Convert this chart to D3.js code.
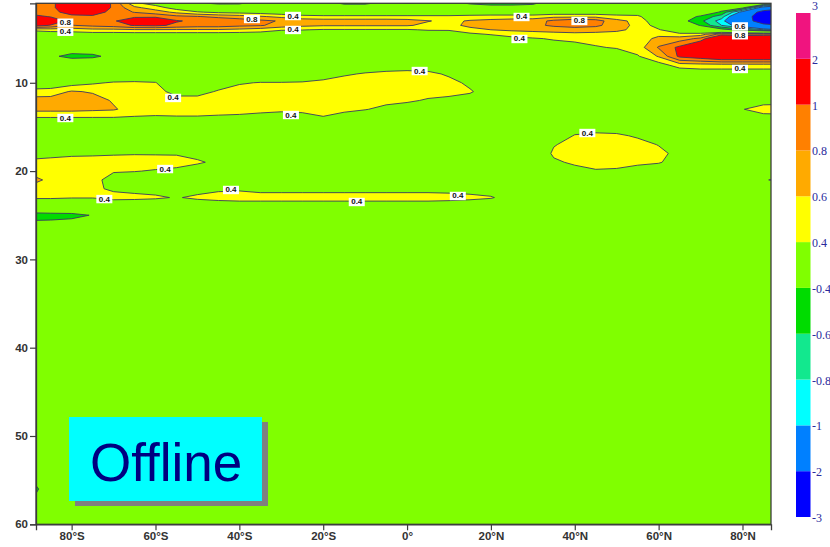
<!DOCTYPE html>
<html>
<head>
<meta charset="utf-8">
<script src="https://cdn.jsdelivr.net/npm/d3@7"></script>
<style>
  html, body { margin: 0; padding: 0; background: #ffffff; }
  svg { display: block; }
</style>
</head>
<body>
<svg id="chart" width="830" height="547"></svg>
<script>
// Grid columns (latitude, degrees; south negative) and rows (model level).
const latitudes = [-90,-85,-80,-75,-70,-65,-60,-55,-50,-45,-40,-35,-30,-25,-20,-15,-10,-5,0,5,10,15,20,25,30,35,40,45,50,55,60,65,70,75,80,85,90];
const levels = [1,1.5,2,2.5,3,3.5,4,4.5,5,6,7,8,9,10,11,12,13,14,15,16,17,18,19,20,21,22,23,24,25,26,27,35,45,53,56,60];

// Field values, one row per level, one entry per latitude.
const field = [
  [0.85,0.9,1.35,1.3,0.95,0.45,0.3,0.1,-0.3,-0.5,-0.5,0.05,0,0,-0.1,-0.5,-0.5,-0.2,-0.42,-0.3,-0.2,-0.45,-0.6,-0.6,-0.5,0,0,0,0,0.05,0.1,0.2,0.1,0,0,-0.1,-0.3],
  [0.85,0.9,1.35,1.3,0.95,0.65,0.5,0.3,0.15,0.1,0.15,0.15,0.1,0.05,0,0,0,0,0,0,0,-0.1,-0.1,-0.1,-0.1,0.05,0.05,0.05,0.05,0.1,0.1,0.1,0,-0.2,-0.35,-1.2,-1.8],
  [0.9,0.85,1.2,1.15,0.9,0.79,0.7,0.55,0.42,0.35,0.32,0.3,0.25,0.22,0.2,0.2,0.2,0.2,0.2,0.2,0.2,0.2,0.2,0.2,0.2,0.25,0.25,0.25,0.2,0.25,0.1,0,-0.1,-0.45,-1.1,-2.4,-2.8],
  [1.1,0.98,0.88,0.95,0.88,0.95,0.95,0.85,0.81,0.75,0.7,0.62,0.55,0.47,0.45,0.45,0.45,0.45,0.45,0.45,0.45,0.48,0.5,0.5,0.5,0.55,0.55,0.55,0.5,0.45,0.15,-0.2,-0.45,-0.7,-1.5,-2.6,-2.9],
  [1.3,1.2,0.9,0.9,0.97,1.2,1.25,1.02,0.95,0.95,0.9,0.85,0.78,0.72,0.7,0.7,0.7,0.7,0.68,0.61,0.55,0.62,0.65,0.68,0.7,0.85,0.95,0.9,0.65,0.55,0.2,-0.3,-0.55,-0.9,-1.6,-2.4,-2.7],
  [1.15,0.98,0.79,0.85,0.9,1.02,1.05,0.95,0.9,0.9,0.85,0.82,0.72,0.65,0.62,0.62,0.62,0.62,0.62,0.55,0.55,0.64,0.68,0.72,0.74,0.84,0.9,0.85,0.68,0.55,0.3,-0.1,-0.42,-0.8,-1.2,-1.8,-2.05],
  [0.45,0.5,0.5,0.55,0.55,0.58,0.58,0.58,0.58,0.58,0.55,0.5,0.42,0.41,0.38,0.38,0.38,0.38,0.38,0.42,0.42,0.55,0.6,0.63,0.65,0.66,0.68,0.67,0.64,0.55,0.42,0.2,0,-0.3,-0.5,-0.8,-1.05],
  [0.2,0.25,0.28,0.3,0.3,0.3,0.3,0.3,0.3,0.3,0.3,0.3,0.25,0.22,0.2,0.2,0.2,0.2,0.2,0.25,0.28,0.35,0.42,0.5,0.52,0.55,0.56,0.55,0.53,0.55,0.55,0.45,0.5,0.9,0.82,0.82,0.9],
  [0.1,0.12,0.12,0.12,0.12,0.12,0.12,0.12,0.12,0.12,0.12,0.12,0.12,0.1,0.1,0.1,0.1,0.1,0.1,0.12,0.15,0.2,0.25,0.33,0.38,0.42,0.45,0.48,0.45,0.5,0.65,0.7,0.85,1.5,1.4,1.5,1.6],
  [0.05,0,-0.05,-0.05,0,0.08,0.08,0.08,0.08,0.08,0.08,0.08,0.08,0.08,0.08,0.08,0.08,0.08,0.08,0.08,0.08,0.08,0.08,0.08,0.08,0.3,0.32,0.38,0.42,0.5,0.82,1.05,1.4,1.6,1.6,1.6,1.6],
  [0,-0.3,-0.55,-0.5,-0.25,0,0.1,0.1,0.1,0.1,0.1,0.1,0.1,0.1,0.1,0.1,0.1,0.1,0.1,0.1,0.1,0.1,0.1,0.1,0.1,0.15,0.15,0.18,0.25,0.38,0.62,1.05,1.15,1.3,1.3,1.3,1.3],
  [0.1,0.1,0.1,0.1,0.1,0.1,0.1,0.1,0.1,0.1,0.1,0.1,0.1,0.1,0.15,0.2,0.25,0.28,0.3,0.28,0.2,0.1,0.1,0.1,0.1,0.1,0.1,0.1,0.1,0.1,0.3,0.5,0.52,0.52,0.52,0.52,0.52],
  [0.1,0.1,0.1,0.15,0.18,0.2,0.2,0.1,0.1,0.15,0.2,0.2,0.2,0.22,0.3,0.37,0.42,0.45,0.46,0.45,0.37,0.2,0.1,0.1,0.1,0.1,0.1,0.1,0.1,0.1,0.15,0.2,0.25,0.25,0.25,0.25,0.25],
  [0.2,0.22,0.3,0.37,0.42,0.43,0.41,0.2,0.22,0.3,0.38,0.41,0.41,0.42,0.45,0.5,0.5,0.5,0.5,0.5,0.46,0.36,0.2,0.1,0.1,0.1,0.1,0.1,0.1,0.1,0.1,0.1,0.1,0.1,0.1,0.1,0.1],
  [0.48,0.5,0.62,0.58,0.5,0.5,0.48,0.32,0.33,0.42,0.48,0.5,0.5,0.5,0.52,0.52,0.5,0.5,0.5,0.47,0.46,0.42,0.3,0.1,0.1,0.1,0.1,0.1,0.1,0.1,0.1,0.1,0.1,0.1,0.15,0.15,0.15],
  [0.68,0.68,0.7,0.68,0.58,0.55,0.52,0.48,0.47,0.48,0.5,0.5,0.5,0.5,0.52,0.5,0.47,0.45,0.43,0.38,0.35,0.32,0.2,0.1,0.1,0.1,0.1,0.1,0.1,0.1,0.1,0.1,0.1,0.1,0.25,0.3,0.3],
  [0.66,0.66,0.66,0.64,0.62,0.52,0.5,0.5,0.5,0.48,0.47,0.45,0.44,0.45,0.48,0.45,0.41,0.35,0.3,0.2,0.15,0.1,0.1,0.1,0.1,0.1,0.1,0.1,0.1,0.1,0.1,0.1,0.1,0.1,0.39,0.5,0.52],
  [0.38,0.38,0.38,0.38,0.38,0.37,0.36,0.37,0.37,0.36,0.35,0.33,0.3,0.32,0.38,0.3,0.25,0.2,0.15,0.1,0.1,0.1,0.1,0.1,0.1,0.1,0.1,0.1,0.1,0.1,0.1,0.1,0.1,0.1,0.2,0.3,0.3],
  [0.15,0.15,0.15,0.15,0.15,0.15,0.15,0.15,0.15,0.15,0.15,0.15,0.15,0.15,0.15,0.15,0.15,0.15,0.15,0.15,0.15,0.15,0.15,0.15,0.15,0.15,0.25,0.3,0.28,0.2,0.15,0.1,0.1,0.1,0.1,0.1,0.1],
  [0.1,0.1,0.1,0.1,0.1,0.1,0.1,0.1,0.1,0.1,0.1,0.1,0.1,0.1,0.1,0.1,0.1,0.1,0.1,0.1,0.1,0.1,0.1,0.1,0.1,0.2,0.42,0.45,0.44,0.37,0.25,0.15,0.1,0.1,0.1,0.1,0.1],
  [0.15,0.15,0.15,0.15,0.15,0.15,0.15,0.15,0.15,0.15,0.1,0.1,0.1,0.1,0.1,0.1,0.1,0.1,0.1,0.1,0.1,0.1,0.1,0.1,0.1,0.38,0.5,0.52,0.52,0.48,0.39,0.25,0.1,0.1,0.1,0.1,0.1],
  [0.3,0.32,0.35,0.36,0.37,0.38,0.38,0.38,0.33,0.3,0.2,0.1,0.1,0.1,0.1,0.1,0.1,0.1,0.1,0.1,0.1,0.1,0.1,0.1,0.1,0.45,0.5,0.52,0.52,0.5,0.46,0.33,0.15,0.1,0.1,0.1,0.1],
  [0.45,0.48,0.5,0.5,0.52,0.52,0.5,0.48,0.43,0.35,0.2,0.1,0.1,0.1,0.1,0.1,0.1,0.1,0.1,0.1,0.1,0.1,0.1,0.1,0.1,0.35,0.45,0.48,0.47,0.45,0.42,0.3,0.1,0.1,0.1,0.1,0.1],
  [0.55,0.52,0.52,0.5,0.42,0.41,0.38,0.35,0.28,0.25,0.15,0.1,0.1,0.1,0.1,0.1,0.1,0.1,0.1,0.1,0.1,0.1,0.1,0.1,0.1,0.2,0.3,0.38,0.37,0.3,0.25,0.15,0.1,0.1,0.1,0.1,0.1],
  [0.68,0.55,0.52,0.48,0.3,0.25,0.2,0.15,0.12,0.1,0.1,0.1,0.1,0.1,0.1,0.1,0.1,0.1,0.1,0.1,0.1,0.1,0.1,0.1,0.1,0.1,0.1,0.1,0.1,0.1,0.1,0.1,0.1,0.1,0.1,0.35,0.55],
  [0.55,0.55,0.52,0.46,0.35,0.32,0.3,0.25,0.3,0.35,0.36,0.32,0.32,0.32,0.32,0.32,0.32,0.32,0.32,0.32,0.32,0.3,0.28,0.2,0.1,0.1,0.1,0.1,0.1,0.1,0.1,0.1,0.1,0.1,0.1,0.1,0.1],
  [0.45,0.45,0.42,0.42,0.5,0.47,0.44,0.38,0.45,0.5,0.52,0.5,0.5,0.5,0.5,0.5,0.5,0.5,0.5,0.5,0.48,0.46,0.42,0.3,0.15,0.1,0.1,0.1,0.1,0.1,0.1,0.1,0.1,0.1,0.1,0.1,0.1],
  [0,0,0,0,0.1,0.15,0.15,0.15,0.2,0.2,0.22,0.25,0.25,0.25,0.25,0.25,0.25,0.25,0.25,0.25,0.25,0.22,0.2,0.15,0.1,0.1,0.1,0.1,0.1,0.1,0.1,0.1,0.1,0.1,0.1,0.1,0.1],
  [-0.55,-0.52,-0.5,-0.38,-0.1,0,0.1,0.1,0.1,0.1,0.1,0.1,0.1,0.1,0.1,0.1,0.1,0.1,0.1,0.1,0.1,0.1,0.1,0.1,0.1,0.1,0.1,0.1,0.1,0.1,0.1,0.1,0.1,0.1,0.1,0.1,0.1],
  [-0.3,-0.3,-0.25,-0.15,0,0.1,0.1,0.1,0.1,0.1,0.1,0.1,0.1,0.1,0.1,0.1,0.1,0.1,0.1,0.1,0.1,0.1,0.1,0.1,0.1,0.1,0.1,0.1,0.1,0.1,0.1,0.1,0.1,0.1,0.1,0.1,0.1],
  [0,0.1,0.1,0.1,0.1,0.1,0.1,0.1,0.1,0.1,0.1,0.1,0.1,0.1,0.1,0.1,0.1,0.1,0.1,0.1,0.1,0.1,0.1,0.1,0.1,0.1,0.1,0.1,0.1,0.1,0.1,0.1,0.1,0.1,0.1,0.1,0.1],
  [0.1,0.1,0.1,0.1,0.1,0.1,0.1,0.1,0.1,0.1,0.1,0.1,0.1,0.1,0.1,0.1,0.1,0.1,0.1,0.1,0.1,0.1,0.1,0.1,0.1,0.1,0.1,0.1,0.1,0.1,0.1,0.1,0.1,0.1,0.1,0.1,0.1],
  [0.1,0.1,0.1,0.1,0.1,0.1,0.1,0.1,0.1,0.1,0.1,0.1,0.1,0.1,0.1,0.1,0.1,0.1,0.1,0.1,0.1,0.1,0.1,0.1,0.1,0.1,0.1,0.1,0.1,0.1,0.1,0.1,0.1,0.1,0.1,0.1,0.1],
  [0,0.1,0.1,0.1,0.1,0.1,0.1,0.1,0.1,0.1,0.1,0.1,0.1,0.1,0.1,0.1,0.1,0.1,0.1,0.1,0.1,0.1,0.1,0.1,0.1,0.1,0.1,0.1,0.1,0.1,0.1,0.1,0.1,0.1,0.1,0.1,0.1],
  [-0.7,0,0.1,0.1,0.1,0.1,0.1,0.1,0.1,0.1,0.1,0.1,0.1,0.1,0.1,0.1,0.1,0.1,0.1,0.1,0.1,0.1,0.1,0.1,0.1,0.1,0.1,0.1,0.1,0.1,0.1,0.1,0.1,0.1,0.1,0.1,0.1],
  [0,0.1,0.1,0.1,0.1,0.1,0.1,0.1,0.1,0.1,0.1,0.1,0.1,0.1,0.1,0.1,0.1,0.1,0.1,0.1,0.1,0.1,0.1,0.1,0.1,0.1,0.1,0.1,0.1,0.1,0.1,0.1,0.1,0.1,0.1,0.1,0.1]
];

// Contour levels and the fill of each band above a level.
const thresholds = [-3,-2,-1,-0.8,-0.6,-0.4,0.4,0.6,0.8,1,2,3];
const bandColors = ["#0000ff","#0080ff","#00ffff","#12e88e","#00dc00","#80ff00","#ffff00","#ffaa00","#ff8000","#ff0000","#f0147f"];

// Axis ticks.
const latTicks = [-80,-60,-40,-20,0,20,40,60,80];
const levelTicks = [10,20,30,40,50,60];
const latExtent = [-88.5, 86.8];
const levelExtent = [1, 60];

// In-line contour labels: position (lat, level) and the contour they name.
const labelLat   = [-81.5,-81.5,-37.0,-27.2,-27.2,27.3,41.1,26.8,79.4,79.4,79.4,3.0,-55.8,-27.7,-81.5,43.0,-57.7,-72.2,-42.0,-12.0,12.1];
const labelLev   = [4.22,3.2,2.78,2.44,4.02,2.55,3.0,5.04,3.62,4.62,8.44,8.67,11.72,13.65,13.99,15.69,19.77,23.17,22.14,23.5,22.82];
const labelValue = [0.4,0.8,0.8,0.4,0.4,0.4,0.8,0.4,0.6,0.8,0.4,0.4,0.4,0.4,0.4,0.4,0.4,0.4,0.4,0.4,0.4];

const svg = d3.select("#chart");
const plot = { left: 36, right: 771, top: 3.3, bottom: 524.3 };

const x = d3.scaleLinear().domain(latExtent).range([plot.left, plot.right]);
const y = d3.scaleLinear().domain(levelExtent).range([plot.top, plot.bottom]);

// Grid index -> data coordinate (piecewise linear over the irregular grid).
const colToLat = d3.scaleLinear().domain(d3.range(latitudes.length)).range(latitudes);
const rowToLev = d3.scaleLinear().domain(d3.range(levels.length)).range(levels);

const values = field.flat();
const contours = d3.contours()
  .size([latitudes.length, levels.length])
  .thresholds(thresholds)(values);

const gridProjection = d3.geoTransform({
  point: function (px, py) {
    this.stream.point(x(colToLat(px - 0.5)), y(rowToLev(py - 0.5)));
  }
});
const path = d3.geoPath(gridProjection);

svg.append("defs").append("clipPath").attr("id", "plotClip")
  .append("rect")
  .attr("x", plot.left).attr("y", plot.top)
  .attr("width", plot.right - plot.left).attr("height", plot.bottom - plot.top);

const fieldG = svg.append("g").attr("clip-path", "url(#plotClip)");

fieldG.append("rect")
  .attr("x", plot.left).attr("y", plot.top)
  .attr("width", plot.right - plot.left).attr("height", plot.bottom - plot.top)
  .attr("fill", bandColors[0]);

// Filled bands, lowest first.
contours.forEach((c, i) => {
  if (i < bandColors.length) {
    fieldG.append("path").attr("d", path(c)).attr("fill", bandColors[i]).attr("stroke", "none");
  }
});

// Contour lines.
contours.forEach(c => {
  fieldG.append("path").attr("d", path(c))
    .attr("fill", "none")
    .attr("stroke", "#3a3a62")
    .attr("stroke-width", 0.9)
    .attr("stroke-linejoin", "round");
});

// Contour labels.
const labelsG = fieldG.append("g");
labelValue.forEach((v, i) => {
  const cx = x(labelLat[i]), cy = y(labelLev[i]);
  labelsG.append("rect")
    .attr("x", cx - 8).attr("y", cy - 4.2)
    .attr("width", 16).attr("height", 8.4)
    .attr("fill", "#ffffff");
  labelsG.append("text")
    .attr("x", cx).attr("y", cy)
    .attr("text-anchor", "middle")
    .attr("dominant-baseline", "central")
    .attr("font-family", "Liberation Sans, Arial, sans-serif")
    .attr("font-weight", "bold")
    .attr("font-size", 8)
    .attr("fill", "#111111")
    .text(String(v));
});

// Frame.
svg.append("rect")
  .attr("x", plot.left).attr("y", plot.top)
  .attr("width", plot.right - plot.left).attr("height", plot.bottom - plot.top)
  .attr("fill", "none").attr("stroke", "#3c3c3c").attr("stroke-width", 1.3);

// Axes.
const fmtLat = d => d === 0 ? "0°" : Math.abs(d) + "°" + (d < 0 ? "S" : "N");

const xAxis = svg.append("g")
  .attr("transform", `translate(0,${plot.bottom})`)
  .call(d3.axisBottom(x).tickValues(latTicks).tickSize(6).tickPadding(2).tickFormat(fmtLat));
const yAxis = svg.append("g")
  .attr("transform", `translate(${plot.left},0)`)
  .call(d3.axisLeft(y).tickValues(levelTicks).tickSize(6).tickPadding(2));

[xAxis, yAxis].forEach(a => {
  a.select(".domain").attr("stroke", "#3c3c3c").attr("stroke-width", 1.3);
  a.selectAll(".tick line").attr("stroke", "#3c3c3c").attr("stroke-width", 1.2);
  a.selectAll(".tick text")
    .attr("font-family", "Liberation Sans, Arial, sans-serif")
    .attr("font-weight", "bold")
    .attr("font-size", 11.5)
    .attr("fill", "#333333");
});

// Colour bar.
const cb = { x: 796, w: 14.5, top: 13, bottom: 517 };
const cbY = d3.scaleLinear().domain([0, thresholds.length - 1]).range([cb.bottom, cb.top]);
const cbG = svg.append("g");
bandColors.forEach((col, i) => {
  cbG.append("rect")
    .attr("x", cb.x).attr("y", cbY(i + 1))
    .attr("width", cb.w).attr("height", cbY(i) - cbY(i + 1))
    .attr("fill", col);
});
thresholds.forEach((t, i) => {
  const top = i === thresholds.length - 1;
  cbG.append("text")
    .attr("x", cb.x + cb.w + 1.5)
    .attr("y", top ? cbY(i) - 3 : cbY(i) + 1)
    .attr("dominant-baseline", top ? "auto" : "central")
    .attr("font-family", "Liberation Serif, Times New Roman, serif")
    .attr("font-size", 12)
    .attr("fill", "#2a2a9c")
    .text(String(t));
});

// "Offline" badge.
const badge = svg.append("g");
badge.append("rect").attr("x", 75).attr("y", 422).attr("width", 193).attr("height", 84).attr("fill", "#808080");
badge.append("rect").attr("x", 69).attr("y", 417).attr("width", 193).attr("height", 84).attr("fill", "#00ffff");
badge.append("text")
  .attr("x", 90).attr("y", 481)
  .attr("font-family", "Liberation Sans, Arial, sans-serif")
  .attr("font-size", 53)
  .attr("fill", "#000080")
  .text("Offline");
</script>
</body>
</html>
